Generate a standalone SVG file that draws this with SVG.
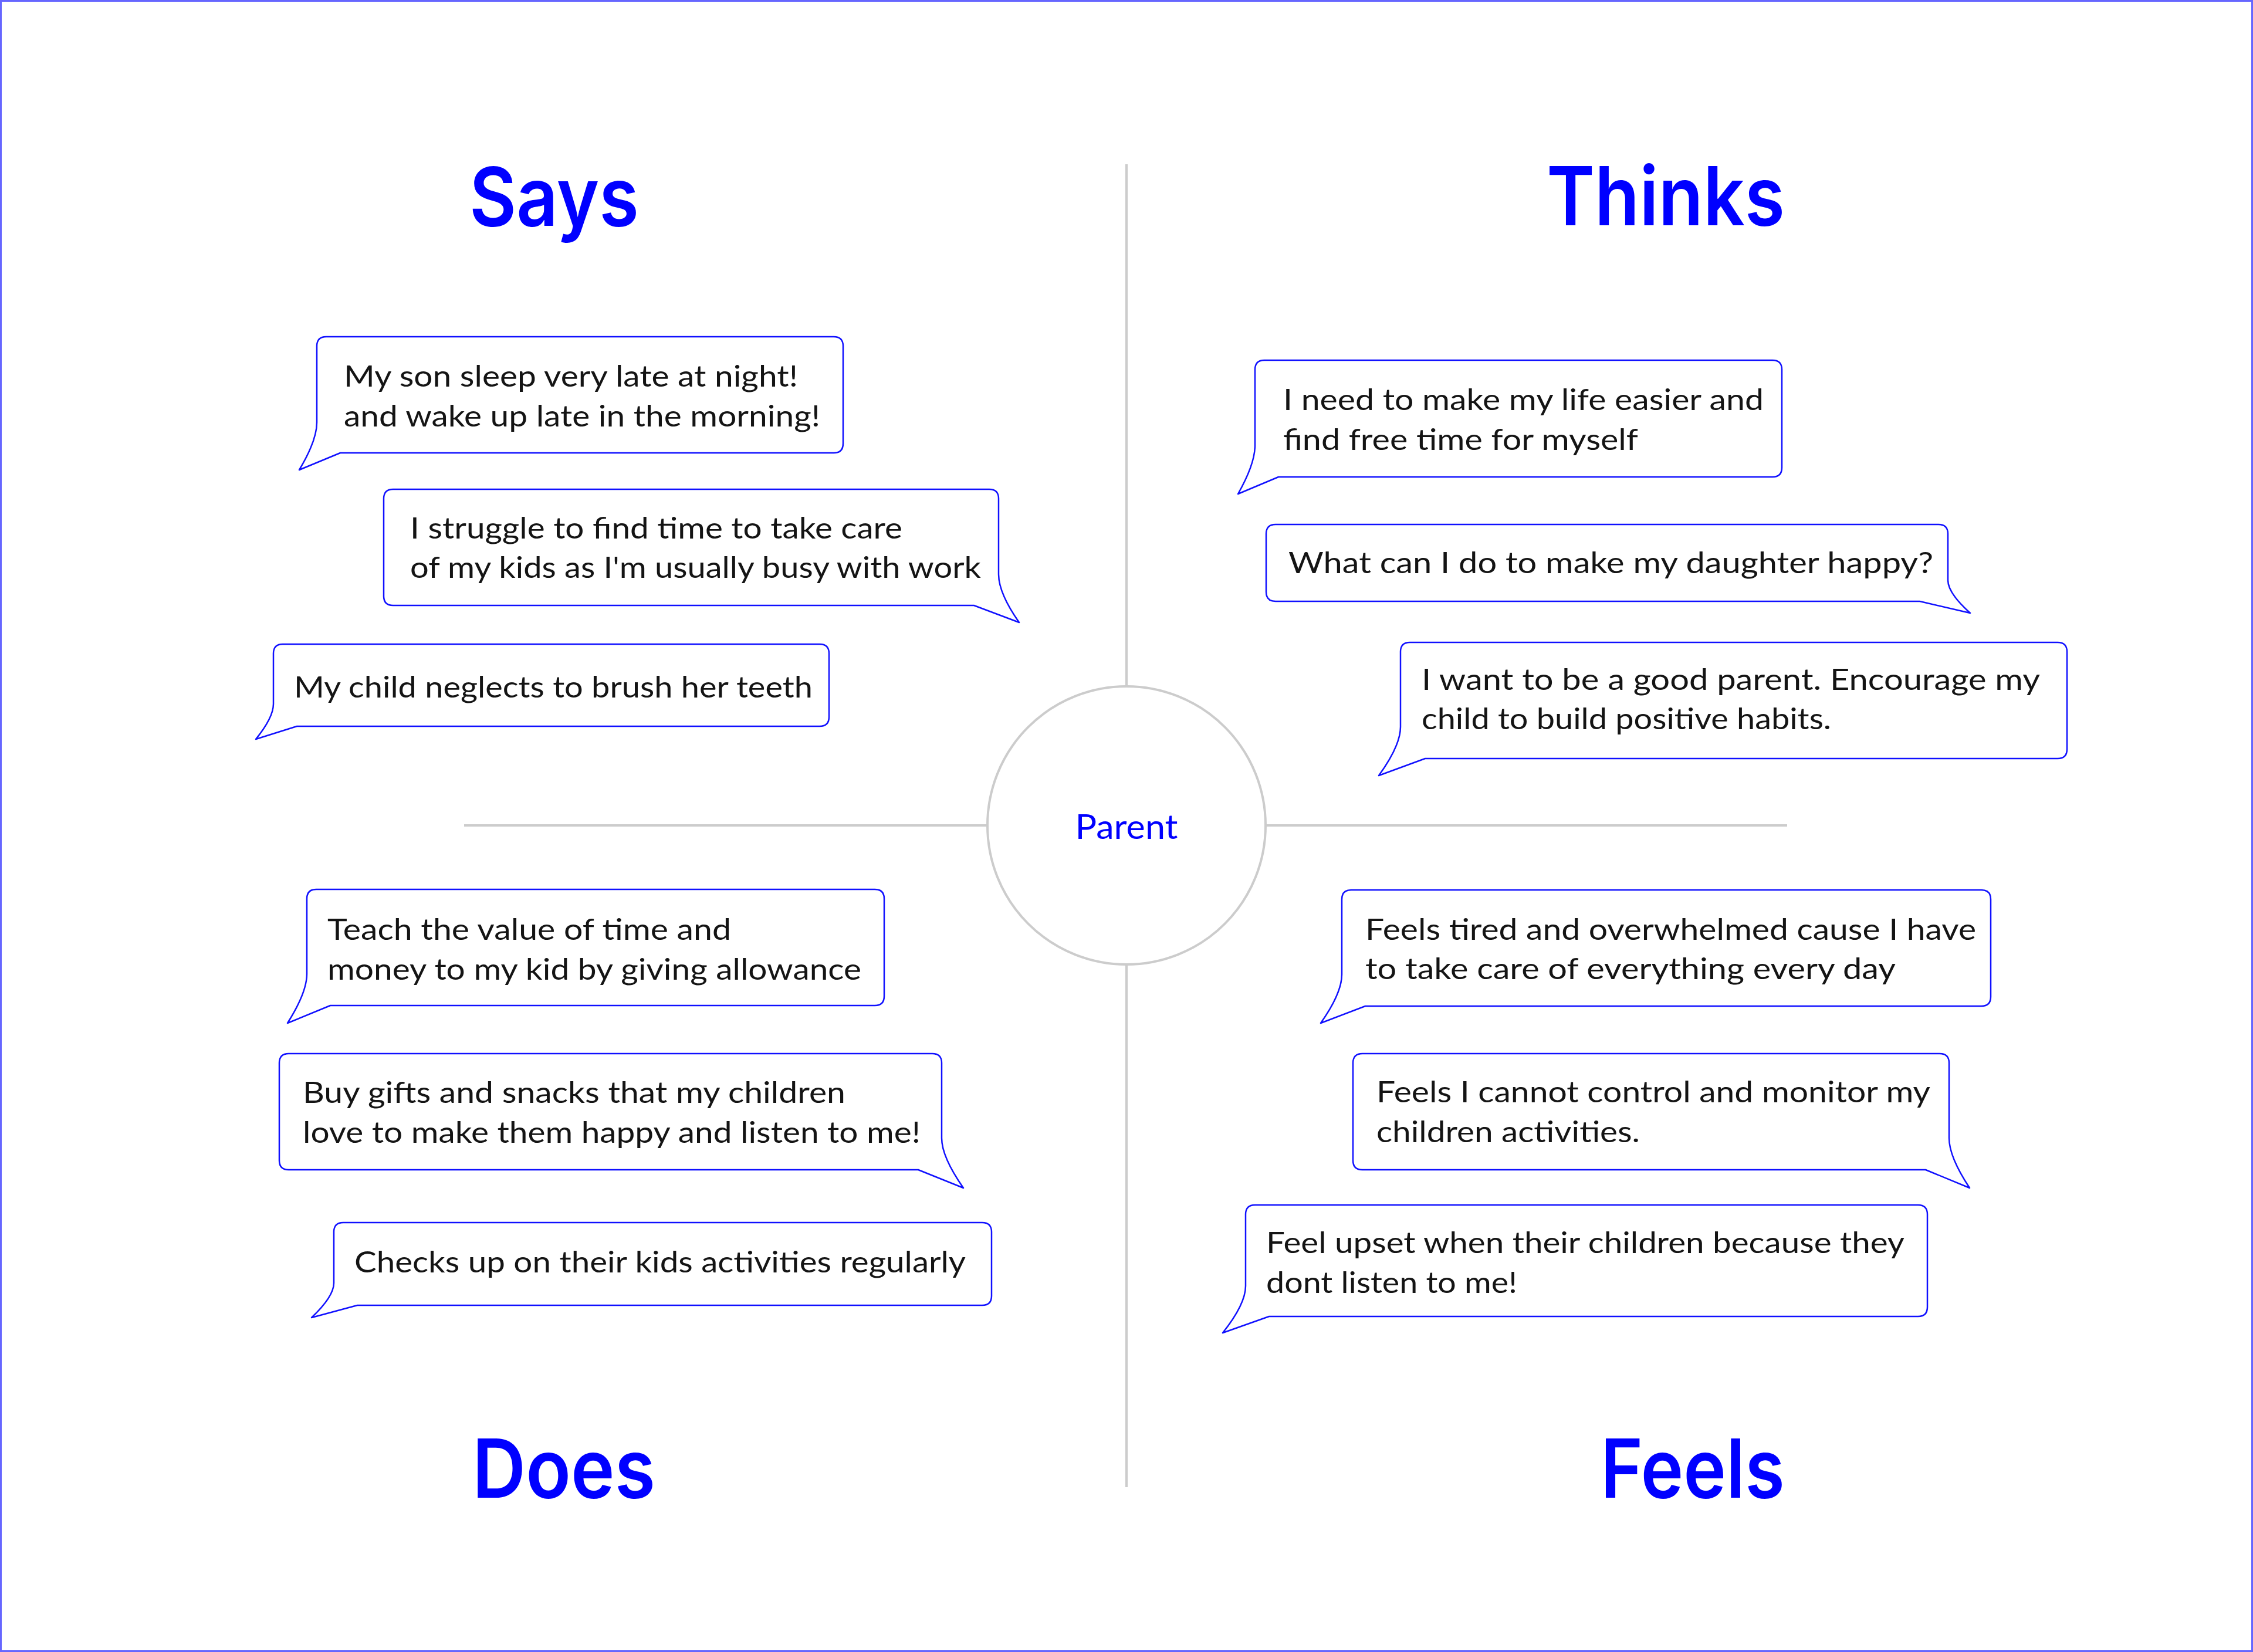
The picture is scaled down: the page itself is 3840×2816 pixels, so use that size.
<svg xmlns="http://www.w3.org/2000/svg" width="3840" height="2816" viewBox="0 0 3840 2816">
<style>
.bubble{fill:#ffffff;stroke:#1010ff;stroke-width:2.5;stroke-linejoin:round}
.t{font-family:Lato,"Noto Sans",sans-serif;font-size:51px;fill:#141414}
.title{font-family:Inter,"Noto Sans",sans-serif;font-weight:600;font-size:139px;fill:#0000ff}
.axis{stroke:#cccccc;stroke-width:4;fill:none}
</style>
<rect x="0" y="0" width="3840" height="2816" fill="#ffffff"/>
<rect x="1.5" y="1.5" width="3837" height="2813" fill="none" stroke="#6666ff" stroke-width="3"/>
<g id="connectors">
<line class="axis" x1="1920" y1="280" x2="1920" y2="1170"/>
<line class="axis" x1="1920" y1="1644" x2="1920" y2="2535"/>
<line class="axis" x1="791" y1="1407" x2="1683" y2="1407"/>
<line class="axis" x1="2157" y1="1407" x2="3046" y2="1407"/>
</g>
<g id="parent">
<circle cx="1920" cy="1407" r="237" fill="#ffffff" stroke="#cccccc" stroke-width="4"/>
<text x="1920" y="1430" text-anchor="middle" font-family="Lato,'Noto Sans',sans-serif" font-size="58" fill="#0000ff" textLength="175" lengthAdjust="spacingAndGlyphs">Parent</text>
</g>
<g id="title-says"><text class="title" x="800" y="385" textLength="289" lengthAdjust="spacingAndGlyphs">Says</text></g>
<g id="title-thinks"><text class="title" x="2636" y="384" textLength="406" lengthAdjust="spacingAndGlyphs">Thinks</text></g>
<g id="title-does"><text class="title" x="805" y="2553" textLength="312" lengthAdjust="spacingAndGlyphs">Does</text></g>
<g id="title-feels"><text class="title" x="2728" y="2553" textLength="314" lengthAdjust="spacingAndGlyphs">Feels</text></g>

<g id="says-1">
<path class="bubble" d="M556,574 H1421 Q1437,574 1437,590 V756 Q1437,772 1421,772 H580 L510,801 Q540,751 540,720 V590 Q540,574 556,574 Z"/>
<text class="t" x="586" y="659" textLength="774" lengthAdjust="spacingAndGlyphs">My son sleep very late at night!</text>
<text class="t" x="586" y="727" textLength="812" lengthAdjust="spacingAndGlyphs">and wake up late in the morning!</text>
</g>
<g id="says-2">
<path class="bubble" d="M670,834 H1686 Q1702,834 1702,850 V979 Q1702,1011 1737,1061 L1660,1032 H670 Q654,1032 654,1016 V850 Q654,834 670,834 Z"/>
<text class="t" x="699" y="918" textLength="839" lengthAdjust="spacingAndGlyphs">I struggle to find time to take care</text>
<text class="t" x="699" y="985" textLength="973" lengthAdjust="spacingAndGlyphs">of my kids as I'm usually busy with work</text>
</g>
<g id="says-3">
<path class="bubble" d="M482,1098 H1397 Q1413,1098 1413,1114 V1222 Q1413,1238 1397,1238 H506 L436,1260 Q466,1223 466,1200 V1114 Q466,1098 482,1098 Z"/>
<text class="t" x="501" y="1189" textLength="884" lengthAdjust="spacingAndGlyphs">My child neglects to brush her teeth</text>
</g>

<g id="thinks-1">
<path class="bubble" d="M2155,614 H3021 Q3037,614 3037,630 V797 Q3037,813 3021,813 H2179 L2110,842 Q2139,791 2139,759 V630 Q2139,614 2155,614 Z"/>
<text class="t" x="2187" y="699" textLength="819" lengthAdjust="spacingAndGlyphs">I need to make my life easier and</text>
<text class="t" x="2187" y="767" textLength="605" lengthAdjust="spacingAndGlyphs">find free time for myself</text>
</g>
<g id="thinks-2">
<path class="bubble" d="M2174,894 H3304 Q3320,894 3320,910 V989 Q3320,1011 3358,1045 L3272,1025 H2174 Q2158,1025 2158,1009 V910 Q2158,894 2174,894 Z"/>
<text class="t" x="2196" y="977" textLength="1099" lengthAdjust="spacingAndGlyphs">What can I do to make my daughter happy?</text>
</g>
<g id="thinks-3">
<path class="bubble" d="M2403,1095 H3507 Q3523,1095 3523,1111 V1277 Q3523,1293 3507,1293 H2429 L2350,1322 Q2387,1271 2387,1239 V1111 Q2387,1095 2403,1095 Z"/>
<text class="t" x="2423" y="1176" textLength="1054" lengthAdjust="spacingAndGlyphs">I want to be a good parent. Encourage my</text>
<text class="t" x="2423" y="1243" textLength="698" lengthAdjust="spacingAndGlyphs">child to build positive habits.</text>
</g>

<g id="does-1">
<path class="bubble" d="M539,1516 H1491 Q1507,1516 1507,1532 V1698 Q1507,1714 1491,1714 H563 L490,1744 Q523,1692 523,1660 V1532 Q523,1516 539,1516 Z"/>
<text class="t" x="558" y="1602" textLength="688" lengthAdjust="spacingAndGlyphs">Teach the value of time and</text>
<text class="t" x="558" y="1670" textLength="910" lengthAdjust="spacingAndGlyphs">money to my kid by giving allowance</text>
</g>
<g id="does-2">
<path class="bubble" d="M492,1796 H1589 Q1605,1796 1605,1812 V1940 Q1605,1972 1642,2025 L1565,1994 H492 Q476,1994 476,1978 V1812 Q476,1796 492,1796 Z"/>
<text class="t" x="516" y="1880" textLength="925" lengthAdjust="spacingAndGlyphs">Buy gifts and snacks that my children</text>
<text class="t" x="516" y="1948" textLength="1053" lengthAdjust="spacingAndGlyphs">love to make them happy and listen to me!</text>
</g>
<g id="does-3">
<path class="bubble" d="M585,2084 H1674 Q1690,2084 1690,2100 V2209 Q1690,2225 1674,2225 H609 L531,2246 Q569,2210 569,2187 V2100 Q569,2084 585,2084 Z"/>
<text class="t" x="604" y="2169" textLength="1042" lengthAdjust="spacingAndGlyphs">Checks up on their kids activities regularly</text>
</g>

<g id="feels-1">
<path class="bubble" d="M2303,1517 H3377 Q3393,1517 3393,1533 V1699 Q3393,1715 3377,1715 H2327 L2251,1744 Q2287,1693 2287,1661 V1533 Q2287,1517 2303,1517 Z"/>
<text class="t" x="2327" y="1602" textLength="1041" lengthAdjust="spacingAndGlyphs">Feels tired and overwhelmed cause I have</text>
<text class="t" x="2327" y="1669" textLength="904" lengthAdjust="spacingAndGlyphs">to take care of everything every day</text>
</g>
<g id="feels-2">
<path class="bubble" d="M2322,1796 H3306 Q3322,1796 3322,1812 V1940 Q3322,1972 3357,2025 L3282,1994 H2322 Q2306,1994 2306,1978 V1812 Q2306,1796 2322,1796 Z"/>
<text class="t" x="2346" y="1879" textLength="944" lengthAdjust="spacingAndGlyphs">Feels I cannot control and monitor my</text>
<text class="t" x="2346" y="1947" textLength="449" lengthAdjust="spacingAndGlyphs">children activities.</text>
</g>
<g id="feels-3">
<path class="bubble" d="M2139,2054 H3269 Q3285,2054 3285,2070 V2228 Q3285,2244 3269,2244 H2163 L2084,2272 Q2123,2223 2123,2192 V2070 Q2123,2054 2139,2054 Z"/>
<text class="t" x="2158" y="2136" textLength="1088" lengthAdjust="spacingAndGlyphs">Feel upset when their children because they</text>
<text class="t" x="2158" y="2204" textLength="428" lengthAdjust="spacingAndGlyphs">dont listen to me!</text>
</g>
</svg>
